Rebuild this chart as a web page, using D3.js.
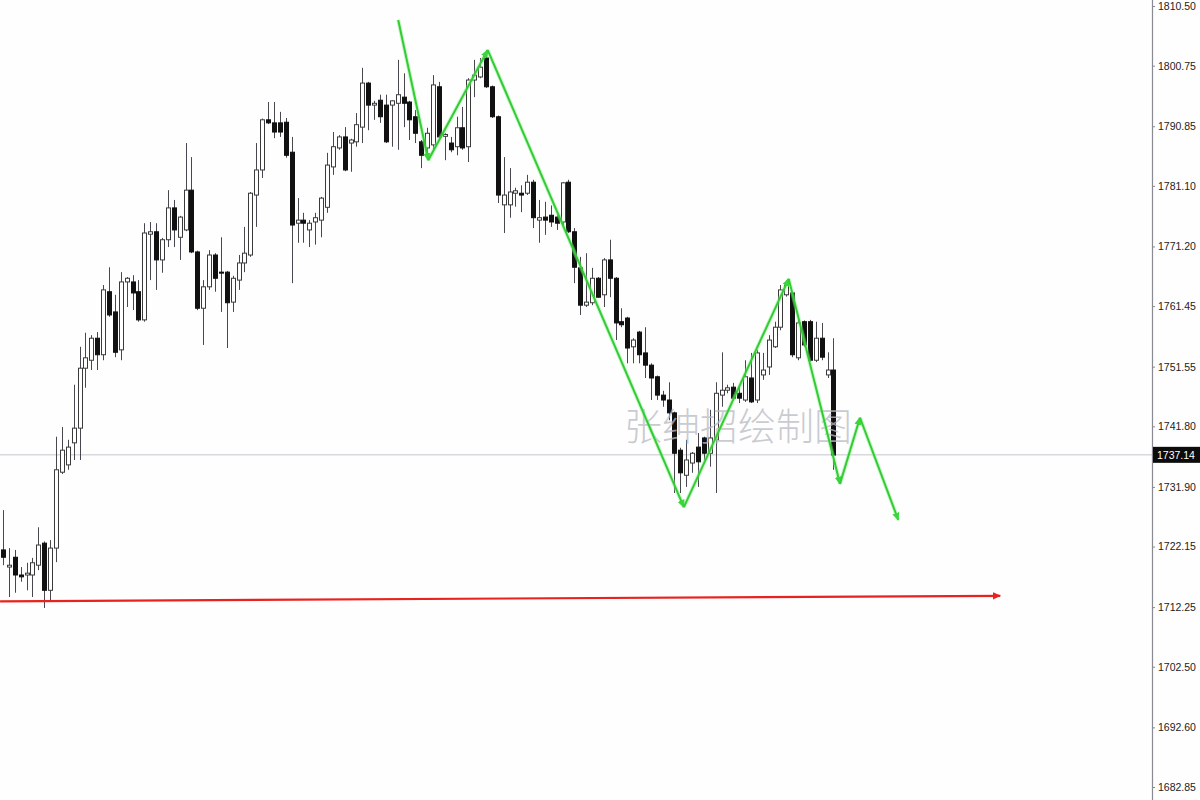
<!DOCTYPE html>
<html>
<head>
<meta charset="utf-8">
<script src="https://cdn.jsdelivr.net/npm/d3@7"></script>
<style>
html,body{margin:0;padding:0;background:#fefeff;}
svg{display:block;}
</style>
</head>
<body>
<svg id="chart" width="1200" height="800"></svg>
<script>
const opens = [1721.6,1718.8,1720.4,1717.5,1717.5,1717.5,1719.1,1722.7,1715.0,1721.9,
1734.3,1735.5,1739.1,1741.5,1751.3,1752.6,1756.2,1753.5,1763.8,1760.5,
1754.3,1765.4,1765.4,1763.8,1759.2,1773.2,1773.6,1769.0,1772.3,1777.5,
1772.7,1773.9,1780.4,1770.3,1761.1,1764.6,1769.8,1767.0,1767.0,1762.1,
1765.7,1768.5,1769.8,1779.6,1783.7,1791.9,1791.4,1791.4,1791.5,1786.6,
1775.0,1775.5,1773.9,1775.2,1775.5,1777.6,1784.2,1787.3,1789.1,1788.1,
1788.3,1790.7,1797.9,1794.3,1795.1,1794.3,1794.3,1794.6,1795.6,1794.8,
1792.4,1788.3,1787.3,1787.8,1797.3,1789.2,1788.1,1787.5,1790.6,1787.5,
1798.4,1798.9,1802.0,1797.3,1792.4,1778.0,1778.0,1779.9,1779.9,1779.9,
1781.7,1775.5,1776.0,1776.3,1776.0,1775.2,1781.7,1773.6,1767.7,1761.6,
1762.0,1766.0,1763.3,1769.0,1766.0,1758.9,1759.5,1754.8,1757.2,1753.8,
1751.8,1749.9,1746.9,1746.1,1744.0,1737.9,1733.8,1735.8,1738.4,1739.9,
1737.4,1739.6,1746.9,1747.7,1748.2,1747.2,1746.1,1749.7,1746.1,1750.2,
1751.5,1754.8,1758.0,1763.3,1763.6,1753.0,1758.9,1758.9,1752.6,1756.2,
1750.2,1751.0];
const highs = [1728.1,1721.9,1721.6,1718.8,1719.5,1720.3,1725.3,1723.0,1723.2,1740.1,
1741.7,1739.6,1748.6,1754.8,1757.1,1756.7,1757.2,1764.9,1767.8,1763.3,
1767.0,1766.2,1766.5,1765.7,1775.0,1775.2,1775.0,1772.6,1780.4,1778.8,
1776.2,1788.1,1785.8,1770.5,1765.7,1770.6,1770.1,1772.7,1767.2,1766.4,
1769.8,1774.4,1780.1,1788.1,1792.1,1794.8,1794.8,1793.2,1792.2,1789.1,
1779.1,1776.7,1775.5,1776.7,1779.3,1786.5,1789.9,1789.4,1790.7,1788.8,
1793.0,1800.4,1798.1,1795.0,1796.0,1796.0,1795.1,1801.7,1799.5,1795.0,
1793.5,1788.6,1790.6,1799.2,1798.1,1789.7,1789.1,1792.4,1794.0,1798.7,
1801.7,1802.0,1803.3,1797.5,1792.6,1785.8,1784.0,1780.8,1781.2,1782.9,
1782.1,1778.8,1778.5,1777.9,1776.3,1781.7,1782.1,1774.2,1769.5,1770.1,
1767.7,1766.2,1769.3,1772.3,1766.2,1761.1,1759.7,1756.2,1757.4,1758.0,
1752.1,1750.1,1747.6,1749.0,1744.2,1738.3,1739.6,1737.6,1740.7,1740.1,
1744.5,1749.0,1753.9,1748.6,1748.9,1748.2,1752.6,1753.8,1754.3,1753.8,
1756.7,1758.9,1764.9,1765.7,1763.8,1759.2,1759.1,1759.2,1758.9,1758.7,
1753.9,1756.2];
const lows = [1719.1,1713.9,1714.6,1716.4,1715.0,1713.9,1718.3,1712.1,1713.4,1719.6,
1734.0,1734.7,1736.3,1736.3,1748.1,1751.0,1751.0,1752.6,1759.7,1753.1,
1752.6,1761.3,1760.8,1758.9,1758.9,1765.7,1764.1,1766.9,1771.1,1771.1,
1769.0,1773.7,1770.1,1760.8,1755.1,1764.1,1763.8,1760.5,1754.6,1760.5,
1764.1,1767.0,1769.5,1774.4,1782.4,1791.2,1788.9,1789.1,1785.7,1765.2,
1771.8,1771.8,1771.1,1771.5,1772.7,1776.7,1782.9,1787.0,1783.5,1783.4,
1787.5,1788.1,1790.2,1791.9,1791.4,1788.1,1787.5,1787.0,1790.7,1788.6,
1788.1,1784.0,1786.1,1787.0,1788.9,1785.3,1786.6,1786.1,1787.0,1785.0,
1795.6,1798.7,1797.1,1792.2,1778.3,1773.4,1775.9,1777.7,1776.8,1779.6,
1774.2,1771.8,1773.1,1774.4,1773.9,1774.7,1773.4,1765.2,1760.0,1761.3,
1761.6,1762.8,1761.3,1762.9,1755.9,1758.0,1752.1,1752.1,1752.1,1749.7,
1746.1,1746.1,1745.0,1742.8,1730.9,1730.9,1731.9,1734.2,1731.9,1736.3,
1735.2,1730.9,1745.0,1747.2,1746.1,1745.6,1745.8,1745.6,1745.6,1749.4,
1750.2,1754.6,1757.5,1763.0,1753.1,1752.6,1754.8,1752.4,1752.3,1752.6,
1749.7,1734.7];
const closes = [1720.4,1719.1,1717.5,1717.2,1717.8,1719.5,1722.4,1715.0,1721.9,1734.7,
1737.9,1738.4,1741.5,1751.3,1753.0,1756.2,1753.5,1764.1,1760.0,1753.9,
1765.4,1766.0,1763.6,1759.2,1773.4,1773.6,1769.0,1772.3,1777.5,1773.9,
1776.0,1780.4,1770.3,1761.1,1764.6,1769.8,1766.0,1766.9,1762.0,1766.0,
1768.5,1770.1,1779.9,1783.7,1791.9,1791.4,1789.9,1789.9,1786.1,1774.7,
1775.5,1775.0,1775.0,1775.9,1779.1,1784.5,1787.5,1789.1,1783.7,1788.6,
1791.1,1797.9,1794.3,1794.6,1792.4,1788.3,1795.0,1796.0,1794.6,1791.9,
1789.7,1786.1,1789.7,1797.6,1789.1,1789.5,1787.0,1790.6,1787.3,1798.4,
1799.2,1800.5,1797.3,1792.4,1779.6,1779.6,1780.1,1780.3,1779.6,1781.7,
1775.9,1775.9,1775.5,1775.2,1775.0,1781.6,1773.6,1767.8,1761.6,1762.1,
1766.0,1762.9,1769.0,1766.0,1758.7,1758.4,1754.6,1755.9,1753.5,1751.8,
1749.7,1746.9,1746.1,1744.0,1737.4,1734.2,1736.3,1737.4,1736.0,1737.4,
1739.9,1747.2,1747.7,1748.1,1746.4,1746.4,1749.9,1745.8,1753.8,1751.0,
1755.9,1758.0,1764.1,1764.9,1753.5,1758.7,1755.1,1752.6,1756.2,1753.1,
1751.0,1737.1];

const priceTicks = [1810.50,1800.75,1790.85,1781.10,1771.20,1761.45,1751.55,1741.80,1731.90,1722.15,1712.25,1702.50,1692.60,1682.85];
const currentPrice = 1737.14;

// green zigzag (bar index, price)
const zigIdx   = [67.1, 72.2, 82.3, 115.6, 133.4, 142.1, 145.5, 152.0];
const zigPrice = [1808.2, 1785.3, 1803.3, 1728.6, 1765.9, 1732.4, 1743.2, 1726.5];
// red support line
const redIdx   = [-0.5, 169.3];
const redPrice = [1713.2, 1714.1];

const watermark = "张绅招绘制图";

const svg = d3.select("#chart");
const W = 1200, H = 800, axisX = 1152;

const x = d3.scaleLinear().domain([0, 193]).range([3, 3 + 193 * 5.89]);
const y = d3.scaleLinear().domain([1682.85, 1810.5]).range([787, 6]);

svg.append("rect").attr("width", W).attr("height", H).attr("fill", "#fefeff");

// current price line
svg.append("line")
  .attr("x1", 0).attr("x2", axisX)
  .attr("y1", y(currentPrice)).attr("y2", y(currentPrice))
  .attr("stroke", "#c4c6cc").attr("stroke-width", 1);

// candles
const candles = opens.map((o, i) => ({i, o, h: highs[i], l: lows[i], c: closes[i]}));
const g = svg.append("g");
const bw = 4;
g.selectAll("line.wick").data(candles).join("line")
  .attr("class", "wick")
  .attr("x1", d => Math.round(x(d.i)) + 0.5).attr("x2", d => Math.round(x(d.i)) + 0.5)
  .attr("y1", d => y(d.h)).attr("y2", d => y(d.l))
  .attr("stroke", "#4a4650").attr("stroke-width", 1);
g.selectAll("rect.body").data(candles).join("rect")
  .attr("class", "body")
  .attr("x", d => Math.round(x(d.i)) - bw / 2 + 0.5)
  .attr("y", d => y(Math.max(d.o, d.c)))
  .attr("width", bw)
  .attr("height", d => Math.max(1, Math.abs(y(d.o) - y(d.c))))
  .attr("fill", d => d.c >= d.o ? "#ffffff" : "#111111")
  .attr("stroke", d => d.c >= d.o ? "#3a3a3a" : "#111111")
  .attr("stroke-width", 1);

// watermark
svg.append("text")
  .attr("x", 624).attr("y", 440)
  .attr("font-family", "'Noto Sans CJK SC', sans-serif")
  .attr("font-size", 38)
  .attr("font-weight", 300)
  .attr("fill", "#b9bac2")
  .attr("fill-opacity", 0.75)
  .text(watermark);

// markers
const defs = svg.append("defs");
defs.append("marker").attr("id", "gArrow")
  .attr("viewBox", "0 -5 10 10").attr("refX", 8).attr("refY", 0)
  .attr("markerWidth", 9).attr("markerHeight", 9).attr("markerUnits", "userSpaceOnUse")
  .attr("orient", "auto")
  .append("path").attr("d", "M0,-4L9,0L0,4Z").attr("fill", "#3cd63c");
defs.append("marker").attr("id", "rArrow")
  .attr("viewBox", "0 -5 10 10").attr("refX", 8).attr("refY", 0)
  .attr("markerWidth", 9).attr("markerHeight", 9).attr("markerUnits", "userSpaceOnUse")
  .attr("orient", "auto")
  .append("path").attr("d", "M0,-4L9,0L0,4Z").attr("fill", "#e8221e");

// red line
const redPts = redIdx.map((v, k) => [x(v), y(redPrice[k])]);
svg.append("path")
  .attr("d", d3.line()(redPts))
  .attr("fill", "none").attr("stroke", "#e8221e").attr("stroke-width", 2.2)
  .attr("marker-end", "url(#rArrow)");

// green zigzag with arrowheads at each vertex
const zigPts = zigIdx.map((v, k) => [x(v), y(zigPrice[k])]);
const segs = d3.pairs(zigPts);
svg.append("g").selectAll("path").data(segs).join("path")
  .attr("d", d => d3.line()(d))
  .attr("fill", "none").attr("stroke", "#8ef08e").attr("stroke-width", 4).attr("stroke-opacity", 0.45);
svg.append("g").selectAll("path").data(segs).join("path")
  .attr("d", d => d3.line()(d))
  .attr("fill", "none").attr("stroke", "#33cc33").attr("stroke-width", 2)
  .attr("marker-end", "url(#gArrow)");

// axis
svg.append("line").attr("x1", axisX + 0.5).attr("x2", axisX + 0.5).attr("y1", 0).attr("y2", H)
  .attr("stroke", "#8a8a92").attr("stroke-width", 1.2);
const axis = d3.axisRight(y).tickValues(priceTicks).tickSize(3).tickPadding(3)
  .tickFormat(d => d.toFixed(2));
const ag = svg.append("g").attr("transform", `translate(${axisX},0)`).call(axis);
ag.select(".domain").remove();
ag.selectAll(".tick line").attr("stroke", "#8a8a92");
ag.selectAll(".tick text").attr("font-family", "'Liberation Sans', Arial, sans-serif")
  .attr("font-size", 10.5).attr("fill", "#222");

// current price label
const cy = y(currentPrice);
svg.append("rect").attr("x", axisX + 1).attr("y", cy - 8).attr("width", 47).attr("height", 16).attr("fill", "#0c0c0c");
svg.append("text").attr("x", axisX + 5).attr("y", cy + 4)
  .attr("font-family", "'Liberation Sans', Arial, sans-serif").attr("font-size", 10.5)
  .attr("fill", "#ffffff").text(currentPrice.toFixed(2));
</script>
</body>
</html>
